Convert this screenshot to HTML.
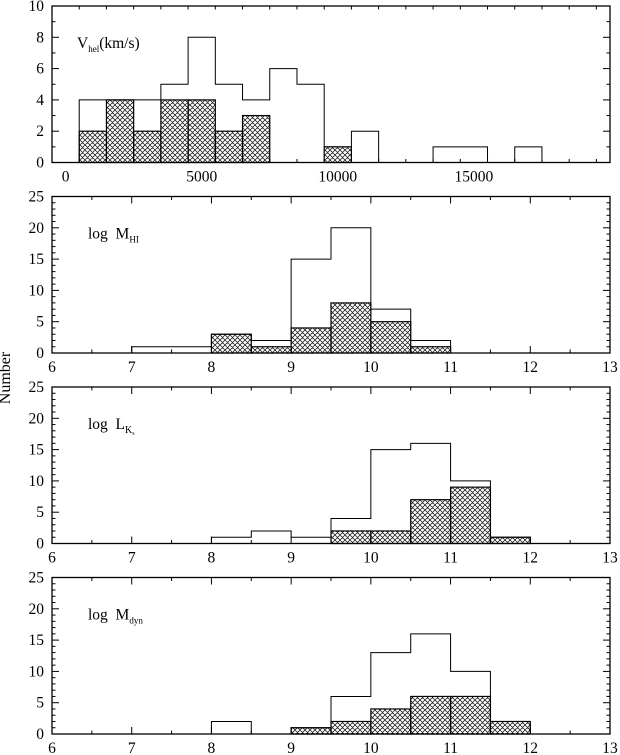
<!DOCTYPE html>
<html><head><meta charset="utf-8"><style>
html,body{margin:0;padding:0;background:#fff;}
svg{display:block;font-family:"Liberation Serif",serif;}
</style></head><body>
<svg id="fig" width="620" height="755" viewBox="0 0 620 755">
<defs>
<pattern id="hatch" patternUnits="userSpaceOnUse" width="5" height="5">
<path d="M0,0 L5,5 M5,0 L0,5 M-1,4 L1,6 M4,-1 L6,1 M-1,1 L1,-1 M4,6 L6,4" stroke="#111" stroke-width="0.75"/>
</pattern>
</defs>
<text x="10" y="378" font-size="16" text-anchor="middle" transform="rotate(-90 10 378)">Number</text>
</svg>
<script>
// Panel 1: heliocentric velocity, bins of 1000 starting at 500
const velEdges = [500,1500,2500,3500,4500,5500,6500,7500,8500,9500,10500,11500,12500,13500,14500,15500,16500,17500];
const velAll = [4,4,4,5,8,5,4,6,5,1,2,0,0,1,1,0,1];
const velSub = [2,4,2,4,4,2,3,0,0,1,0,0,0,0,0,0,0];
const velXTicks = [0,5000,10000,15000];
const velYTicks = [0,2,4,6,8,10];
// Panels 2-4: bins of 0.5 starting at 6
const logEdges = [6,6.5,7,7.5,8,8.5,9,9.5,10,10.5,11,11.5,12,12.5,13];
const hiAll  = [0,0,1,1,3,2,15,20,7,2,0,0,0,0];
const hiSub  = [0,0,0,0,3,1,4,8,5,1,0,0,0,0];
const lkAll  = [0,0,0,0,1,2,1,4,15,16,10,1,0,0];
const lkSub  = [0,0,0,0,0,0,0,2,2,7,9,1,0,0];
const dynAll = [0,0,0,0,2,0,1,6,13,16,10,2,0,0];
const dynSub = [0,0,0,0,0,0,1,2,4,6,6,2,0,0];
const logXTicks = [6,7,8,9,10,11,12,13];
const countYTicks = [0,5,10,15,20,25];

const svg = document.getElementById('fig');
const NS = 'http://www.w3.org/2000/svg';
function mk(tag, attrs, parent){const e=document.createElementNS(NS,tag);for(const k in attrs)e.setAttribute(k,attrs[k]);(parent||svg).appendChild(e);return e;}

const L=52, R=610, H=156.5;
function panel(cfg){
  const g = mk('g',{});
  
  
  const top=cfg.top, bot=top+H;
  const sx = v => L + (v-cfg.xmin)/(cfg.xmax-cfg.xmin)*(R-L);
  const sy = v => bot - (v-cfg.ymin)/(cfg.ymax-cfg.ymin)*H;
  for(let i=0;i<cfg.sub.length;i++){
    if(cfg.sub[i]<=0) continue;
    const r = mk('rect',{x:sx(cfg.edges[i]),y:sy(cfg.sub[i]),width:sx(cfg.edges[i+1])-sx(cfg.edges[i]),height:bot-sy(cfg.sub[i]),fill:'url(#hatch)',stroke:'#000','stroke-width':1.2},g);
    
    
  }
  let d='';
  const n=cfg.all.length;
  d += 'M'+sx(cfg.edges[0])+','+bot;
  for(let i=0;i<n;i++){
    d += ' L'+sx(cfg.edges[i])+','+sy(cfg.all[i])+' L'+sx(cfg.edges[i+1])+','+sy(cfg.all[i]);
  }
  d += ' L'+sx(cfg.edges[n])+','+bot;
  const p = mk('path',{d:d,fill:'none',stroke:'#000','stroke-width':1},g);
  
  
  const f = mk('rect',{x:L,y:top,width:R-L,height:H,fill:'none',stroke:'#000','stroke-width':1.3},g);
  
  
  for(let v=cfg.xmin; v<=cfg.xmax+1e-9; v+=cfg.xminor){
    const x=sx(v);
    const major = Math.abs(v/cfg.xmajor-Math.round(v/cfg.xmajor))<1e-6;
    const len = major?7:3.5;
    mk('line',{x1:x,y1:bot,x2:x,y2:bot-len,stroke:'#000','stroke-width':1},g);
    mk('line',{x1:x,y1:top,x2:x,y2:top+len,stroke:'#000','stroke-width':1},g);
  }
  for(const v of cfg.xticks){
    const t = mk('text',{x:sx(v),y:bot+19,'font-size':15.5,'text-anchor':'middle'},g);
    t.textContent=v;
    
    
  }
  for(let v=cfg.ymin; v<=cfg.ymax+1e-9; v+=cfg.yminor){
    const y=sy(v);
    const major = Math.abs(v/cfg.ymajor-Math.round(v/cfg.ymajor))<1e-6;
    const len = major?7:3.5;
    mk('line',{x1:L,y1:y,x2:L+len,y2:y,stroke:'#000','stroke-width':1},g);
    mk('line',{x1:R,y1:y,x2:R-len,y2:y,stroke:'#000','stroke-width':1},g);
  }
  for(const v of cfg.yticks){
    const t = mk('text',{x:44,y:sy(v)+5,'font-size':15.5,'text-anchor':'end'},g);
    t.textContent=v;
    
    
  }
  const lab = mk('text',{x:cfg.lx,y:top+cfg.ly,'font-size':15.5},g);
  
  
  for(const part of cfg.label){
    const ts = mk('tspan',{},lab);
    if(part.sub){ts.setAttribute('font-size',part.fs||'9');ts.setAttribute('dy',part.dy||'4');}
    else if(part.dy){ts.setAttribute('dy',part.dy);}
    ts.textContent=part.t;
  }
}
panel({name:'velocity-panel',top:6,xmin:-500,xmax:20000,xmajor:5000,xminor:1000,ymin:0,ymax:10,ymajor:2,yminor:1,
  edges:velEdges,all:velAll,sub:velSub,xticks:velXTicks,yticks:velYTicks,lx:77,ly:42,
  label:[{t:'V'},{t:'hel',sub:true},{t:'(km/s)',dy:'-4'}]});
panel({name:'hi-mass-panel',top:196.5,xmin:6,xmax:13,xmajor:1,xminor:0.5,ymin:0,ymax:25,ymajor:5,yminor:1,
  edges:logEdges,all:hiAll,sub:hiSub,xticks:logXTicks,yticks:countYTicks,lx:88,ly:42,
  label:[{t:'log\u00A0\u00A0M'},{t:'HI',sub:true}]});
panel({name:'k-luminosity-panel',top:387,xmin:6,xmax:13,xmajor:1,xminor:0.5,ymin:0,ymax:25,ymajor:5,yminor:1,
  edges:logEdges,all:lkAll,sub:lkSub,xticks:logXTicks,yticks:countYTicks,lx:88,ly:42,
  label:[{t:'log\u00A0\u00A0L'},{t:'K',sub:true,fs:'10',dy:'4'},{t:'s',sub:true,fs:'6',dy:'2'}]});
panel({name:'dynamical-mass-panel',top:577.5,xmin:6,xmax:13,xmajor:1,xminor:0.5,ymin:0,ymax:25,ymajor:5,yminor:1,
  edges:logEdges,all:dynAll,sub:dynSub,xticks:logXTicks,yticks:countYTicks,lx:88,ly:42,
  label:[{t:'log\u00A0\u00A0M'},{t:'dyn',sub:true}]});
</script>
</body></html>
